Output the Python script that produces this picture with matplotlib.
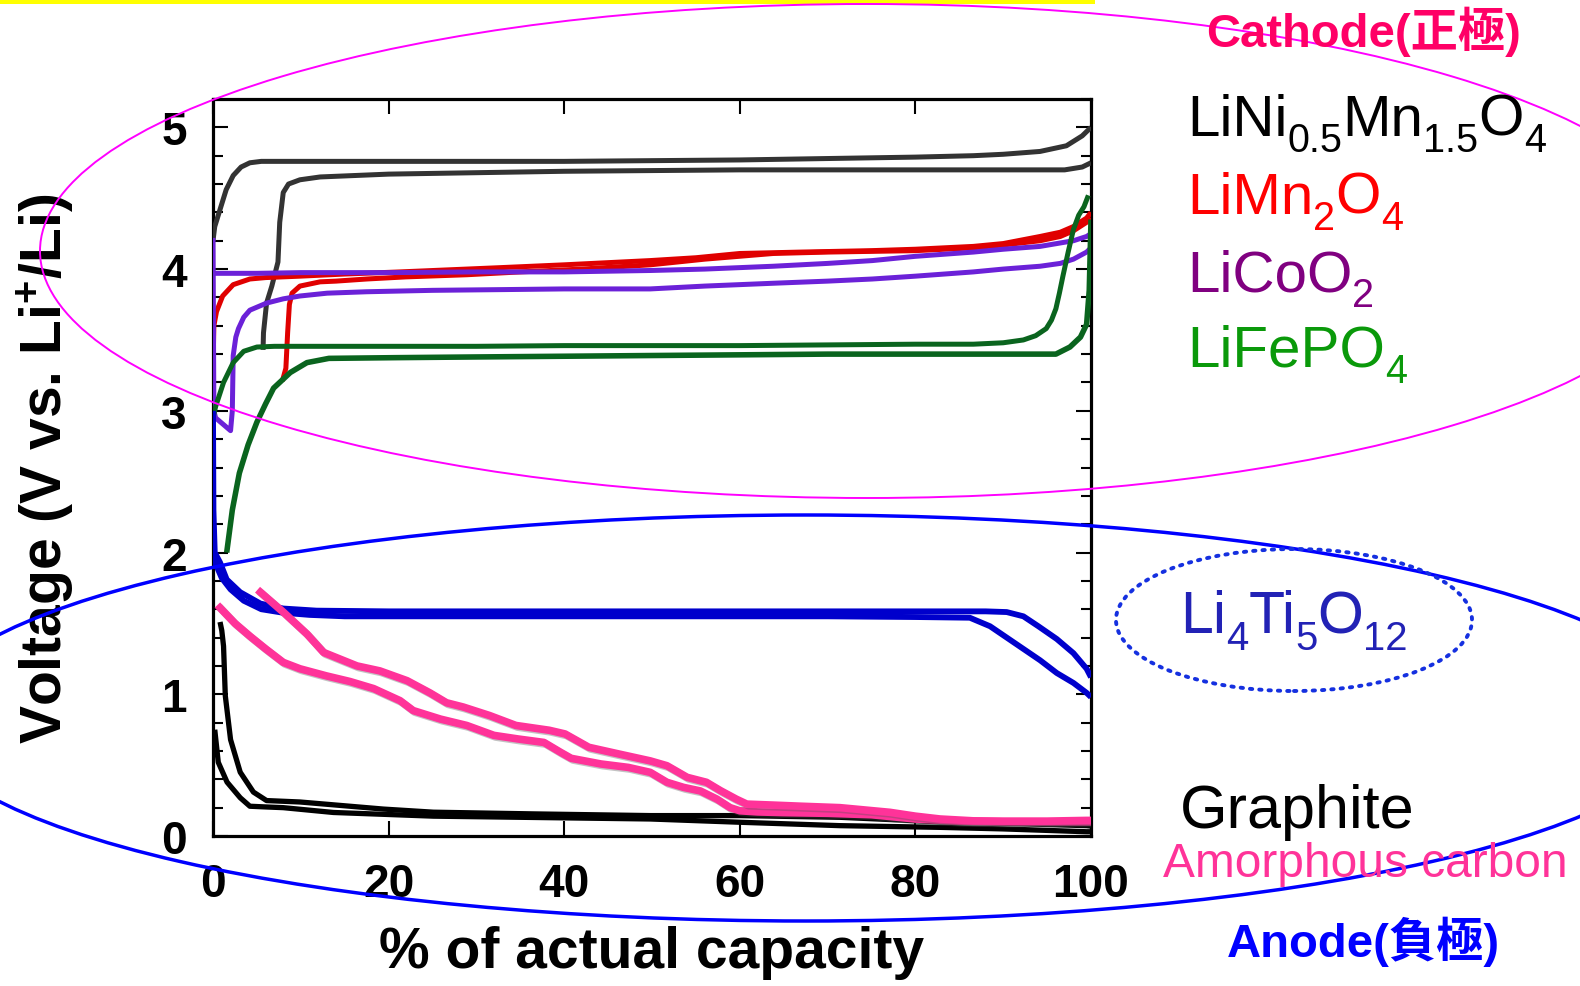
import matplotlib
matplotlib.use('Agg')
import matplotlib.pyplot as plt
from matplotlib.patches import Ellipse, Rectangle
from matplotlib.ticker import MultipleLocator
import matplotlib.patheffects as pe

plt.rcParams['font.family'] = ['Liberation Sans', 'Noto Sans CJK TC', 'DejaVu Sans']
plt.rcParams['mathtext.fontset'] = 'custom'
plt.rcParams['mathtext.rm'] = 'Liberation Sans'
plt.rcParams['mathtext.it'] = 'Liberation Sans:italic'
plt.rcParams['mathtext.bf'] = 'Liberation Sans:bold'

# ---------------- data (x: % of actual capacity, y: V vs Li+/Li) ----------------
lnmo_a_x = [0, 0.2, 0.8, 1.5, 2.3, 3.2, 4.2, 5.5, 6.9, 10, 20, 30, 40, 50, 60, 70, 80, 86.6, 90, 94.2, 97.2, 99, 100]
lnmo_a_y = [4.2, 4.3, 4.42, 4.56, 4.66, 4.72, 4.75, 4.76, 4.76, 4.76, 4.76, 4.76, 4.76, 4.765, 4.77, 4.78, 4.79, 4.80, 4.81, 4.83, 4.87, 4.94, 5.0]
lnmo_b_x = [5.7, 5.75, 6.1, 6.7, 7.4, 7.6, 8.0, 8.6, 9.9, 12.2, 20, 30, 40, 50, 60, 70, 80, 90, 97, 99, 100]
lnmo_b_y = [3.43, 3.55, 3.76, 3.88, 4.05, 4.33, 4.54, 4.60, 4.63, 4.65, 4.67, 4.68, 4.69, 4.695, 4.70, 4.70, 4.70, 4.70, 4.70, 4.72, 4.75]

lmo_a_x = [0, 0.1, 0.4, 1.1, 2.3, 4.2, 6.0, 9.9, 15, 21.3, 27, 32.7, 40, 49.8, 55, 60, 67, 75, 80, 86.6, 90, 94.2, 96.5, 98, 99.5, 100]
lmo_a_y = [3.3, 3.60, 3.70, 3.81, 3.89, 3.93, 3.94, 3.95, 3.965, 3.98, 3.995, 4.01, 4.03, 4.06, 4.08, 4.11, 4.12, 4.13, 4.14, 4.16, 4.18, 4.23, 4.26, 4.30, 4.36, 4.40]
lmo_b_x = [7.9, 8.3, 8.5, 8.7, 9.0, 9.9, 12.2, 14, 17.5, 22, 28.9, 35, 42, 49.8, 56, 63.8, 70, 80, 86.6, 90, 94.2, 96.5, 98, 99.5, 100]
lmo_b_y = [3.21, 3.30, 3.55, 3.75, 3.83, 3.88, 3.91, 3.915, 3.93, 3.945, 3.96, 3.98, 4.00, 4.03, 4.07, 4.11, 4.12, 4.13, 4.15, 4.17, 4.20, 4.23, 4.27, 4.33, 4.36]

lco_a_x = [0, 0.1, 0.3, 2.0, 2.2, 2.3, 2.6, 2.9, 3.5, 4.2, 6.1, 8, 9.9, 13, 17.5, 25, 32.7, 40, 49.8, 56, 63.8, 70, 75.1, 80, 86.6, 90, 94.2, 96.5, 98, 99.5, 100]
lco_a_y = [4.22, 3.0, 2.95, 2.86, 3.0, 3.39, 3.52, 3.58, 3.66, 3.71, 3.76, 3.79, 3.81, 3.83, 3.84, 3.85, 3.855, 3.86, 3.86, 3.88, 3.90, 3.915, 3.93, 3.95, 3.98, 4.0, 4.02, 4.04, 4.07, 4.12, 4.15]
lco_b_x = [0, 5, 10, 20, 30, 40, 49.8, 56, 63.8, 70, 75.1, 80, 86.6, 90, 94.2, 98, 99.5, 100]
lco_b_y = [3.97, 3.97, 3.975, 3.975, 3.98, 3.98, 3.99, 4.0, 4.02, 4.04, 4.06, 4.09, 4.12, 4.14, 4.16, 4.20, 4.23, 4.25]

lfp_a_x = [0, 0.3, 1.2, 2.3, 3.5, 5.0, 7, 9.9, 20, 30, 40, 49.8, 60, 70, 80, 86.6, 90, 92.3, 93.7, 94.9, 95.5, 96.0, 96.4, 96.8, 97.4, 98.0, 98.6, 99.2, 99.7]
lfp_a_y = [2.95, 3.03, 3.20, 3.34, 3.42, 3.45, 3.455, 3.455, 3.455, 3.455, 3.46, 3.46, 3.46, 3.465, 3.47, 3.47, 3.48, 3.50, 3.53, 3.58, 3.64, 3.72, 3.83, 3.95, 4.12, 4.28, 4.38, 4.44, 4.52]
lfp_b_x = [1.56, 2.2, 3.0, 4.0, 5.0, 6.0, 6.9, 8.8, 10.7, 13.2, 20.8, 30, 40, 49.8, 60, 70, 80, 90, 96, 97.6, 98.8, 99.5, 99.8, 100]
lfp_b_y = [2.0, 2.3, 2.56, 2.76, 2.92, 3.05, 3.16, 3.27, 3.34, 3.37, 3.375, 3.38, 3.385, 3.39, 3.395, 3.40, 3.40, 3.40, 3.40, 3.45, 3.52, 3.61, 3.85, 4.35]

lto_a_x = [0, 0.05, 0.2, 0.8, 1.56, 3.1, 5.4, 8.0, 11.8, 20, 30, 40, 50, 60, 70, 80, 88, 90.4, 92.3, 94, 96.1, 98, 99.5, 100]
lto_a_y = [3.0, 2.3, 2.0, 1.93, 1.81, 1.72, 1.64, 1.605, 1.59, 1.585, 1.585, 1.585, 1.585, 1.585, 1.585, 1.585, 1.585, 1.58, 1.55, 1.48, 1.39, 1.29, 1.18, 1.12]
lto_b_x = [0, 0.3, 1.0, 2.0, 3.5, 5.5, 8.0, 11, 15, 20, 30, 40, 50, 60, 70, 80, 86.2, 88.5, 90.4, 92.3, 94.2, 96.1, 98, 99.5, 100]
lto_b_y = [2.0, 1.92, 1.82, 1.74, 1.66, 1.60, 1.575, 1.56, 1.55, 1.55, 1.55, 1.55, 1.55, 1.55, 1.55, 1.545, 1.54, 1.48, 1.40, 1.32, 1.24, 1.15, 1.08, 1.01, 0.98]

hc_a_x = [0.8, 2.5, 4.2, 6, 8.0, 9.9, 12.9, 15.6, 18.3, 21.3, 22.8, 25.9, 28.9, 32.0, 34.7, 37.7, 39.6, 40.8, 44.2, 47.3, 49.8, 51.7, 53.6, 55.5, 57.4, 58.9, 60.0, 62, 65, 70, 75, 80, 85, 90, 95, 100]
hc_a_y = [1.61, 1.50, 1.41, 1.32, 1.225, 1.18, 1.13, 1.09, 1.04, 0.955, 0.885, 0.825, 0.78, 0.71, 0.685, 0.66, 0.59, 0.548, 0.508, 0.484, 0.449, 0.379, 0.343, 0.318, 0.26, 0.2, 0.178, 0.17, 0.165, 0.16, 0.15, 0.12, 0.105, 0.10, 0.10, 0.10]
hc_b_x = [5.4, 8.0, 10.7, 12.6, 16.4, 19.0, 22.1, 24.7, 26.6, 28.5, 31.5, 34.5, 38.3, 40.1, 42.8, 46.2, 49.8, 51.7, 54.0, 56.2, 57.8, 59.6, 60.8, 63.8, 67, 71.4, 74, 77.1, 80, 82.8, 86.6, 90, 95, 99.5, 100]
hc_b_y = [1.72, 1.58, 1.425, 1.295, 1.20, 1.165, 1.096, 1.01, 0.94, 0.91, 0.85, 0.78, 0.746, 0.72, 0.626, 0.579, 0.53, 0.496, 0.414, 0.379, 0.32, 0.26, 0.225, 0.218, 0.21, 0.20, 0.185, 0.167, 0.14, 0.12, 0.107, 0.105, 0.105, 0.11, 0.11]

gr_a_x = [0.8, 1.0, 1.2, 1.4, 2.0, 3.1, 4.6, 6.1, 9.9, 13.7, 19.4, 25.1, 36.5, 49.8, 60, 71.4, 82.8, 90, 99.5, 100]
gr_a_y = [1.51, 1.45, 1.34, 0.99, 0.68, 0.45, 0.31, 0.25, 0.24, 0.22, 0.19, 0.168, 0.156, 0.144, 0.144, 0.132, 0.10, 0.09, 0.073, 0.07]
gr_b_x = [0.2, 0.6, 1.6, 3.1, 4.2, 6, 8.0, 13.7, 25.1, 49.8, 60, 71.4, 82.8, 90, 99.5, 100]
gr_b_y = [0.75, 0.52, 0.38, 0.27, 0.21, 0.205, 0.2, 0.166, 0.14, 0.12, 0.097, 0.073, 0.061, 0.05, 0.03, 0.03]

x_ticks = [0, 20, 40, 60, 80, 100]
y_ticks = [0, 1, 2, 3, 4, 5]

# chemical formulas as (text, is_subscript) pieces
cathode_labels = [
    [('LiNi', False), ('0.5', True), ('Mn', False), ('1.5', True), ('O', False), ('4', True)],
    [('LiMn', False), ('2', True), ('O', False), ('4', True)],
    [('LiCoO', False), ('2', True)],
    [('LiFePO', False), ('4', True)],
]
cathode_label_colors = ['#000000', '#FF0000', '#800080', '#0A990A']
lto_label = [('Li', False), ('4', True), ('Ti', False), ('5', True), ('O', False), ('12', True)]

# ---------------- figure ----------------
W, H = 1580, 987
fig = plt.figure(figsize=(W / 100, H / 100), dpi=100)
fig.patch.set_facecolor('white')
renderer = fig.canvas.get_renderer()


def fx(px):
    return px / W


def fy(py):
    return 1 - py / H


ax = fig.add_axes([fx(213), fy(837), (1091 - 213) / W, (837 - 100) / H])

series = [
    (gr_a_x, gr_a_y, '#000000', 3.8, 2),
    (gr_b_x, gr_b_y, '#000000', 3.8, 2),
    (lnmo_a_x, lnmo_a_y, '#333333', 3.6, 3),
    (lnmo_b_x, lnmo_b_y, '#333333', 3.6, 3),
    (lmo_a_x, lmo_a_y, '#E00000', 3.6, 4),
    (lmo_b_x, lmo_b_y, '#E00000', 3.6, 4),
    (lco_a_x, lco_a_y, '#6B21D8', 3.6, 5),
    (lco_b_x, lco_b_y, '#6B21D8', 3.6, 5),
    (lfp_a_x, lfp_a_y, '#0A641E', 3.6, 6),
    (lfp_b_x, lfp_b_y, '#0A641E', 4.0, 6),
    (lto_a_x, lto_a_y, '#0000CC', 4.2, 7),
    (lto_b_x, lto_b_y, '#0000CC', 4.2, 7),
]
for xs, ys, c, lw, z in series:
    ax.plot(xs, ys, color=c, lw=lw, zorder=z, solid_joinstyle='round', solid_capstyle='butt')

for xs, ys in [(hc_a_x, hc_a_y), (hc_b_x, hc_b_y)]:
    ax.plot(xs, ys, color='#FF3399', lw=5.5, zorder=8, solid_joinstyle='round',
            path_effects=[pe.SimpleLineShadow(offset=(1.2, -1.2), shadow_color='#555555', alpha=0.35), pe.Normal()])

ax.set_xlim(0, 100)
ax.set_ylim(0, 5.2)
ax.set_xticks(x_ticks)
ax.set_yticks(y_ticks)
ax.set_xticklabels([str(t) for t in x_ticks])
ax.set_yticklabels([str(t) for t in y_ticks])
ax.yaxis.set_minor_locator(MultipleLocator(0.2))
ax.tick_params(which='both', direction='in', top=True, right=True, width=1.5, colors='black')
ax.tick_params(which='major', length=10.5, pad=19, labelsize=33)
ax.tick_params(which='minor', length=7)
for lab in ax.get_xticklabels() + ax.get_yticklabels():
    lab.set_fontweight('bold')
for s in ax.spines.values():
    s.set_linewidth(2.3)
    s.set_color('black')

ax.set_xlabel('% of actual capacity', fontsize=41, fontweight='bold')
ax.set_ylabel('Voltage (V vs. Li$^{\\mathbf{+}}$/Li)', fontsize=41, fontweight='bold')
ax.xaxis.set_label_coords(0.5, (837 - 953) / 737)
ax.xaxis.label.set_va('center')
ax.yaxis.set_label_coords((45 - 213) / 878, 0.5)
ax.yaxis.label.set_va('center')

# ---------------- overlay annotations ----------------
fig.add_artist(Rectangle((0, fy(5)), fx(1095), 5 / H, transform=fig.transFigure,
                         facecolor='#FFFF00', edgecolor='none', zorder=5))
fig.add_artist(Ellipse((fx(867), fy(252)), 2 * 827 / W, 2 * 247 / H, transform=fig.transFigure,
                       facecolor='none', edgecolor='#FF00FF', lw=1.4, zorder=6))
fig.add_artist(Ellipse((fx(806), fy(719)), 2 * 885 / W, 2 * 203 / H, transform=fig.transFigure,
                       facecolor='none', edgecolor='#0000FF', lw=2.5, zorder=6))
fig.add_artist(Ellipse((fx(1294), fy(621)), 356 / W, 142 / H, transform=fig.transFigure,
                       facecolor='none', edgecolor='#1530E0', lw=2.8, linestyle=(0, (0.6, 1.8)),
                       capstyle='round', zorder=6))


def formula(x_px, yb_px, parts, size, color):
    x = x_px
    em = size * 100 / 72
    for s, sub in parts:
        fs = size * 0.68 if sub else size
        yy = yb_px + (0.28 * em if sub else 0)
        t = fig.text(fx(x), fy(yy), s, fontsize=fs, color=color, va='baseline', ha='left', zorder=7)
        x += t.get_window_extent(renderer).width


label_baselines = [136, 214, 291, 367]
for parts, col, yb in zip(cathode_labels, cathode_label_colors, label_baselines):
    formula(1187, yb, parts, 42, col)

formula(1180, 633, lto_label, 42.5, '#2222B5')
fig.text(fx(1180), fy(828), 'Graphite', color='#000000', fontsize=44, va='baseline', ha='left', zorder=7)
fig.text(fx(1163), fy(877), 'Amorphous carbon', color='#FF3399', fontsize=34.5, va='baseline', ha='left', zorder=7)
fig.text(fx(1206), fy(47), 'Cathode(正極)', color='#FF0066', fontsize=34, fontweight='bold',
         va='baseline', ha='left', zorder=7, family=['Liberation Sans', 'Noto Sans CJK TC'])
fig.text(fx(1227), fy(957), 'Anode(負極)', color='#0000FF', fontsize=34, fontweight='bold',
         va='baseline', ha='left', zorder=7, family=['Liberation Sans', 'Noto Sans CJK TC'])

fig.savefig('out.png', dpi=100, facecolor='white')
